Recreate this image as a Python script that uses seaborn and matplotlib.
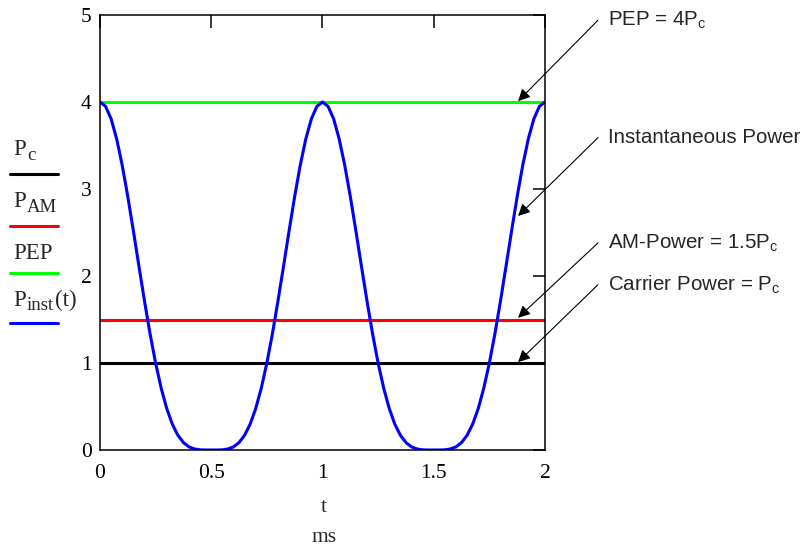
# AM power vs time (Mathcad style plot)

import numpy as np
import pandas as pd
import matplotlib.pyplot as plt
import seaborn as sns
from matplotlib.lines import Line2D

# Time axis in ms (0 to 2 ms, step 0.025 ms)
t_ms = [i * 0.025 for i in range(81)]

# Instantaneous power (one value per time point)
p_inst = [4.0, 3.951, 3.807, 3.576, 3.273, 2.914, 2.521, 2.114, 1.714, 1.337,
          1.0, 0.712, 0.477, 0.298, 0.170, 0.086, 0.036, 0.012, 0.002, 0.0002,
          0.0, 0.0002, 0.002, 0.012, 0.036, 0.086, 0.170, 0.298, 0.477, 0.712,
          1.0, 1.337, 1.714, 2.114, 2.521, 2.914, 3.273, 3.576, 3.807, 3.951,
          4.0, 3.951, 3.807, 3.576, 3.273, 2.914, 2.521, 2.114, 1.714, 1.337,
          1.0, 0.712, 0.477, 0.298, 0.170, 0.086, 0.036, 0.012, 0.002, 0.0002,
          0.0, 0.0002, 0.002, 0.012, 0.036, 0.086, 0.170, 0.298, 0.477, 0.712,
          1.0, 1.337, 1.714, 2.114, 2.521, 2.914, 3.273, 3.576, 3.807, 3.951,
          4.0]

# Constant power levels
p_c = 1.0
p_am = 1.5
pep = 4.0

# Legend entries: main letter, subscript, trailing text
legend_main = ['P', 'P', 'PEP', 'P']
legend_sub = ['c', 'AM', '', 'inst']
legend_tail = ['', '', '', '(t)']
legend_colors = ['black', 'red', '#00ff00', 'blue']

notes = [r'PEP = 4$\mathregular{P_c}$', 'Instantaneous Power',
         r'AM-Power = 1.5$\mathregular{P_c}$', r'Carrier Power = $\mathregular{P_c}$']
note_xy = [(1.879, 4.01), (1.879, 2.69), (1.879, 1.52), (1.879, 1.01)]
note_text_y = [4.94, 3.59, 2.38, 1.90]

sns.set_style('white')
plt.rcParams['font.family'] = ['Liberation Serif', 'DejaVu Serif']

fig = plt.figure(figsize=(8.03, 5.49), dpi=100)
ax = fig.add_axes([0.1245, 0.1803, 0.5542, 0.7923])

lw = 2.2
sns.lineplot(x=[0, 2], y=[p_c, p_c], color='black', linewidth=lw, ax=ax)
sns.lineplot(x=[0, 2], y=[p_am, p_am], color='red', linewidth=lw, ax=ax)
sns.lineplot(x=[0, 2], y=[pep, pep], color='#00ff00', linewidth=lw, ax=ax)
sns.lineplot(x=t_ms, y=p_inst, color='blue', linewidth=lw, ax=ax, sort=False)

ax.set_xlim(0, 2)
ax.set_ylim(0, 5)
ax.set_xticks([0, 0.5, 1, 1.5, 2])
ax.set_xticklabels(['0', '0.5', '1', '1.5', '2'])
ax.set_yticks([0, 1, 2, 3, 4, 5])
ax.tick_params(direction='in', length=9, width=1.1, top=True, right=True,
               labelsize=15.5, colors='black')
ax.tick_params(axis='x', pad=10)
ax.tick_params(axis='y', pad=6)
for s in ax.spines.values():
    s.set_color('black')
    s.set_linewidth(1.1)
ax.set_xlabel('')
ax.set_ylabel('')

# Axis titles below the plot
fig.text(324 / 803, 1 - 508 / 549, 't', ha='center', va='center', fontsize=15.5)
fig.text(324 / 803, 1 - 537 / 549, 'ms', ha='center', va='center', fontsize=15.5)

# Mathcad style legend at the left
def px(x, y):
    return x / 803, 1 - y / 549

line_y = [174, 226, 273, 323]
base_y = [155, 207, 259, 306]
sub_x = [27, 27, 27, 27]
tail_x = [0, 0, 0, 55]
for i in range(4):
    fig.text(*px(13, base_y[i]), legend_main[i], ha='left', va='baseline', fontsize=16.5)
    if legend_sub[i]:
        fig.text(*px(sub_x[i], base_y[i] + 4.5), legend_sub[i], ha='left',
                 va='baseline', fontsize=13.5)
    if legend_tail[i]:
        fig.text(*px(tail_x[i], base_y[i]), legend_tail[i], ha='left',
                 va='baseline', fontsize=16.5)
    fig.add_artist(Line2D([10 / 803, 58 / 803], [1 - line_y[i] / 549] * 2,
                          color=legend_colors[i], linewidth=2.2,
                          transform=fig.transFigure))

# Annotations with arrows on the right
for txt, xy, ty in zip(notes, note_xy, note_text_y):
    ax.annotate('', xy=xy, xytext=(2.238, ty), annotation_clip=False,
                arrowprops=dict(arrowstyle='-|>', color='black', lw=0.8,
                                mutation_scale=18, shrinkA=0, shrinkB=0))
    ax.text(2.283, ty, txt, ha='left', va='center', fontsize=14.8,
            family=['Liberation Sans', 'DejaVu Sans'], clip_on=False)

fig.savefig('out.png', dpi=100)
